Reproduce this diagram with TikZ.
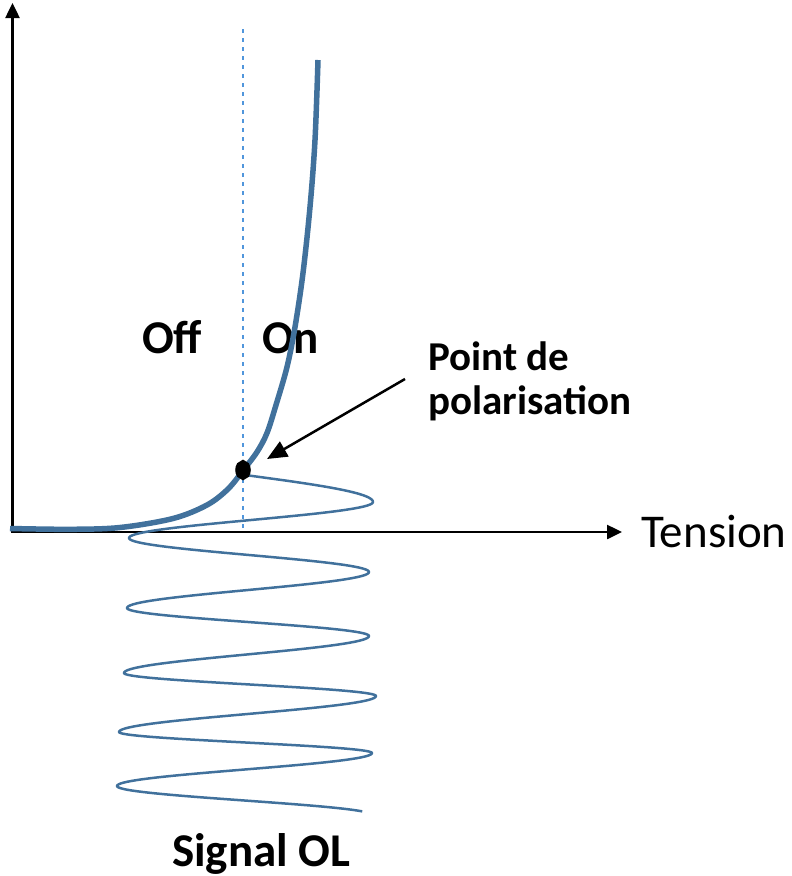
\documentclass[tikz,border=0pt]{standalone}
\usepackage{fontspec}
\setmainfont{Carlito}
\usetikzlibrary{arrows.meta,shapes.geometric}
\definecolor{curveblue}{RGB}{65,113,156}
\definecolor{dashblue}{RGB}{80,150,220}
\begin{document}
\begin{tikzpicture}[x=1pt,y=-1pt,
  axisline/.style={line width=2.5pt,{Triangle[length=15pt,width=14pt]}-{Triangle[length=15pt,width=14pt]}},
  guide/.style={dashblue,line width=1.3pt,dash pattern=on 4pt off 5pt},
  diode/.style={curveblue,line width=5.5pt,line cap=butt},
  sig/.style={curveblue,line width=2.5pt,line join=round},
  biasdot/.style={ellipse,draw=black,line width=7.5pt,minimum width=8pt,minimum height=12pt,inner sep=0pt},
  ptarrow/.style={line width=2.5pt,-{Triangle[length=20pt,width=17pt]}},
  lbl/.style={inner sep=0pt,font=\fontsize{47}{56}\selectfont\bfseries},
  ptlbl/.style={inner sep=0pt,align=left,font=\fontsize{41}{44}\selectfont\bfseries},
  tens/.style={inner sep=0pt,font=\fontsize{47}{56}\selectfont}]
\useasboundingbox (0,0) rectangle (792,876);
% axes
\coordinate (O) at (12.5,532);
\coordinate (ytip) at (12.5,3);
\coordinate (xtip) at (622,532);
\draw[axisline] (ytip) -- (O) -- (xtip);
% labels
\node[tens,anchor=base west] (tension) at (641,547) {Tension};
\node[lbl,anchor=base west] (off) at (142,353) {Off};
\node[lbl,anchor=base west] (on) at (262,353) {On};
\node[lbl,anchor=base west] (signal) at (172,866) {Signal OL};
\node[ptlbl,anchor=base west] (pol) at (428,414) {Point de\\polarisation};
% LO signal
\coordinate (s0) at (245,475);
\draw[sig] (s0) -- plot[domain=0:1,samples=25,variable=\t] ({245+128*sin(90*\t)},{475+27*\t})
  \foreach \xa/\ya/\xb/\yb in {373/502/129/538, 129/538/369/572, 369/572/127/608, 127/608/369/636,
     369/636/124/673, 124/673/376/696, 376/696/119/732, 119/732/372/753, 372/753/117/786} {
   -- plot[domain=0:1,samples=40,variable=\t] ({(\xa+\xb)/2+(\xa-\xb)/2*cos(180*\t)},{\ya+(\yb-\ya)*\t})
  }
  -- plot[domain=0:0.875,samples=35,variable=\t] ({244.5-127.5*cos(180*\t)},{786+29*\t});
% diode curve
\draw[diode] plot[smooth,tension=0.55] coordinates {(10,528.5) (70,529.3) (120,527.5) (173,518.5) (207,505) (228,489) (243,470.5) (257,452) (267,433) (276,405) (287,367) (295,327) (303,273) (310,207) (315,140) (318,60)};
% guide line
\coordinate (dtop) at (243,29);
\coordinate (dbot) at (243,531);
\draw[guide] (dtop) -- (dbot);
% bias point
\node[biasdot] (bias) at (243,470) {};
\coordinate (astart) at (405,379);
\coordinate (atip) at (267,459);
\draw[ptarrow] (astart) -- (atip);
\end{tikzpicture}
\end{document}
